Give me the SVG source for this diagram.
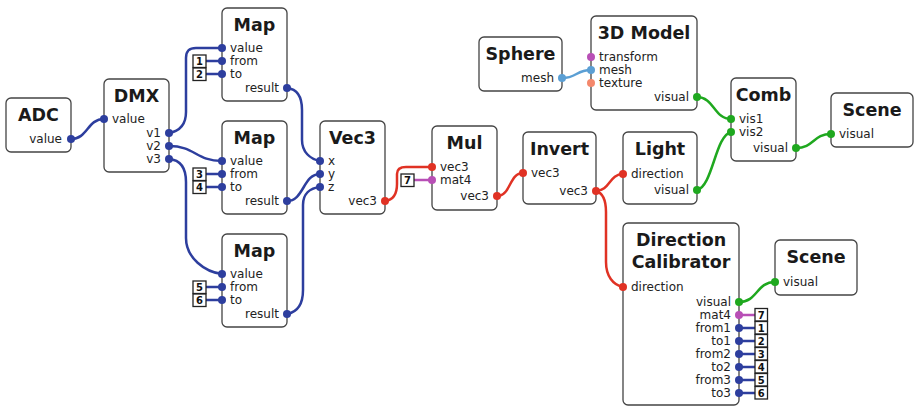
<svg xmlns="http://www.w3.org/2000/svg" width="914" height="406" viewBox="0 0 914 406">
  <defs>
    <style>
      .node { fill: #ffffff; stroke: #444444; stroke-width: 1.3; }
      .title { font-family: "DejaVu Sans", "Liberation Sans", sans-serif; font-weight: bold; font-size: 17.5px; fill: #1a1a1a; text-anchor: middle; }
      .lbl { font-family: "DejaVu Sans", "Liberation Sans", sans-serif; font-size: 12px; fill: #222222; }
      .r { text-anchor: end; }
      .wire { fill: none; stroke-width: 2.5; stroke-linecap: round; }
      .k { fill: #ffffff; stroke: #222222; stroke-width: 1.3; }
      .kt { font-family: "DejaVu Sans", "Liberation Sans", sans-serif; font-weight: bold; font-size: 10px; fill: #111111; text-anchor: middle; }
      .blue { stroke: #2d3e9e; }
      .red { stroke: #e03224; }
      .green { stroke: #1fa81f; }
      .purple { stroke: #b84fb6; }
      .sky { stroke: #5b9fd4; }
      .pb { fill: #2d3e9e; }
      .pr { fill: #e03224; }
      .pg { fill: #1fa81f; }
      .pp { fill: #b84fb6; }
      .ps { fill: #5b9fd4; }
      .po { fill: #f4886c; }
    </style>
  </defs>

  <!-- connectors -->
  <g id="connectors">
    <path class="wire blue" d="M71,139 C88,139 87,119 104,119"/>
    <path class="wire blue" d="M169,133 C180,131 186,124 186,112 L186,58 C186,51 189,48 196,48 L222,48"/>
    <path class="wire blue" d="M169,146 C195,146 196,161 222,161"/>
    <path class="wire blue" d="M169,159 C181,160 186,168 186,182 L186,238 C186,258 205,272 222,274"/>
    <path class="wire blue" d="M287,88 C297,89 302,97 302,110 L302,140 C302,152 310,159 320,161"/>
    <path class="wire blue" d="M287,201 C304,201 303,174 320,174"/>
    <path class="wire blue" d="M287,314 C298,312 303,303 303,290 L303,205 C303,194 310,188 320,187"/>
    <path class="wire red" d="M385,201 C394,200 397,193 397,184 L397,174 C397,169 400,167 406,167 L432,167"/>
    <path class="wire red" d="M497,196 C511,196 509,173 523,173"/>
    <path class="wire red" d="M596,191 C610,191 609,174 623,174"/>
    <path class="wire red" d="M596,191 C603,193 606,200 606,212 L606,262 C606,276 613,285 623,287"/>
    <path class="wire sky" d="M562,78 C577,78 576,70 591,70"/>
    <path class="wire green" d="M697,97 C714,97 714,119 731,119"/>
    <path class="wire green" d="M697,190 C713,186 715,136 731,132"/>
    <path class="wire green" d="M796,148 C814,148 813,134 831,134"/>
    <path class="wire green" d="M739,302 C758,302 756,282 775,282"/>
    <!-- constant inputs -->
    <path class="wire blue" d="M206,61 L222,61 M206,74 L222,74 M206,174 L222,174 M206,187 L222,187 M206,287 L222,287 M206,300 L222,300"/>
    <path class="wire purple" d="M414,180 L432,180 M739,315 L755,315"/>
    <path class="wire blue" d="M739,328 L755,328 M739,341 L755,341 M739,354 L755,354 M739,367 L755,367 M739,380 L755,380 M739,393 L755,393"/>
  </g>

  <!-- constant value boxes -->
  <g id="constants">
    <rect class="k" x="193" y="55" width="13" height="12.5"/><text class="kt" x="199.5" y="65">1</text>
    <rect class="k" x="193" y="68" width="13" height="12.5"/><text class="kt" x="199.5" y="78">2</text>
    <rect class="k" x="193" y="168" width="13" height="12.5"/><text class="kt" x="199.5" y="178">3</text>
    <rect class="k" x="193" y="181" width="13" height="12.5"/><text class="kt" x="199.5" y="191">4</text>
    <rect class="k" x="193" y="281" width="13" height="12.5"/><text class="kt" x="199.5" y="291">5</text>
    <rect class="k" x="193" y="294" width="13" height="12.5"/><text class="kt" x="199.5" y="304">6</text>
    <rect class="k" x="401" y="174" width="13" height="12.5"/><text class="kt" x="407.5" y="184">7</text>
    <rect class="k" x="755" y="308.5" width="12.5" height="12.5"/><text class="kt" x="761.3" y="318.5">7</text>
    <rect class="k" x="755" y="321.5" width="12.5" height="12.5"/><text class="kt" x="761.3" y="331.5">1</text>
    <rect class="k" x="755" y="334.5" width="12.5" height="12.5"/><text class="kt" x="761.3" y="344.5">2</text>
    <rect class="k" x="755" y="347.5" width="12.5" height="12.5"/><text class="kt" x="761.3" y="357.5">3</text>
    <rect class="k" x="755" y="360.5" width="12.5" height="12.5"/><text class="kt" x="761.3" y="370.5">4</text>
    <rect class="k" x="755" y="373.5" width="12.5" height="12.5"/><text class="kt" x="761.3" y="383.5">5</text>
    <rect class="k" x="755" y="386.5" width="12.5" height="12.5"/><text class="kt" x="761.3" y="396.5">6</text>
  </g>

  <g id="adc">
    <rect class="node" x="6" y="98" width="65" height="54" rx="5"/>
    <text class="title" x="38.5" y="121">ADC</text>
    <text class="lbl r" x="62" y="143">value</text>
    <circle class="pb" cx="71" cy="139" r="4"/>
  </g>

  <g id="dmx">
    <rect class="node" x="104" y="79" width="65" height="93" rx="5"/>
    <text class="title" x="136.5" y="102">DMX</text>
    <text class="lbl" x="112" y="123">value</text>
    <text class="lbl r" x="161" y="137">v1</text>
    <text class="lbl r" x="161" y="150">v2</text>
    <text class="lbl r" x="161" y="163">v3</text>
    <circle class="pb" cx="104" cy="119" r="4"/>
    <circle class="pb" cx="169" cy="133" r="4"/>
    <circle class="pb" cx="169" cy="146" r="4"/>
    <circle class="pb" cx="169" cy="159" r="4"/>
  </g>

  <g id="map1">
    <rect class="node" x="222" y="8" width="65" height="93" rx="5"/>
    <text class="title" x="254.5" y="31">Map</text>
    <text class="lbl" x="230" y="52">value</text>
    <text class="lbl" x="230" y="65">from</text>
    <text class="lbl" x="230" y="78">to</text>
    <text class="lbl r" x="279" y="92">result</text>
    <circle class="pb" cx="222" cy="48" r="4"/>
    <circle class="pb" cx="222" cy="61" r="4"/>
    <circle class="pb" cx="222" cy="74" r="4"/>
    <circle class="pb" cx="287" cy="88" r="4"/>
  </g>

  <g id="map2">
    <rect class="node" x="222" y="121" width="65" height="93" rx="5"/>
    <text class="title" x="254.5" y="144">Map</text>
    <text class="lbl" x="230" y="165">value</text>
    <text class="lbl" x="230" y="178">from</text>
    <text class="lbl" x="230" y="191">to</text>
    <text class="lbl r" x="279" y="205">result</text>
    <circle class="pb" cx="222" cy="161" r="4"/>
    <circle class="pb" cx="222" cy="174" r="4"/>
    <circle class="pb" cx="222" cy="187" r="4"/>
    <circle class="pb" cx="287" cy="201" r="4"/>
  </g>

  <g id="map3">
    <rect class="node" x="222" y="234" width="65" height="93" rx="5"/>
    <text class="title" x="254.5" y="257">Map</text>
    <text class="lbl" x="230" y="278">value</text>
    <text class="lbl" x="230" y="291">from</text>
    <text class="lbl" x="230" y="304">to</text>
    <text class="lbl r" x="279" y="318">result</text>
    <circle class="pb" cx="222" cy="274" r="4"/>
    <circle class="pb" cx="222" cy="287" r="4"/>
    <circle class="pb" cx="222" cy="300" r="4"/>
    <circle class="pb" cx="287" cy="314" r="4"/>
  </g>

  <g id="vec3">
    <rect class="node" x="320" y="121" width="65" height="93" rx="5"/>
    <text class="title" x="352.5" y="144">Vec3</text>
    <text class="lbl" x="328" y="165">x</text>
    <text class="lbl" x="328" y="178">y</text>
    <text class="lbl" x="328" y="191">z</text>
    <text class="lbl r" x="377" y="205">vec3</text>
    <circle class="pb" cx="320" cy="161" r="4"/>
    <circle class="pb" cx="320" cy="174" r="4"/>
    <circle class="pb" cx="320" cy="187" r="4"/>
    <circle class="pr" cx="385" cy="201" r="4"/>
  </g>

  <g id="mul">
    <rect class="node" x="432" y="126" width="65" height="84" rx="5"/>
    <text class="title" x="464.5" y="149">Mul</text>
    <text class="lbl" x="440" y="171">vec3</text>
    <text class="lbl" x="440" y="184">mat4</text>
    <text class="lbl r" x="489" y="200">vec3</text>
    <circle class="pr" cx="432" cy="167" r="4"/>
    <circle class="pp" cx="432" cy="180" r="4"/>
    <circle class="pr" cx="497" cy="196" r="4"/>
  </g>

  <g id="invert">
    <rect class="node" x="523" y="132" width="73" height="72" rx="5"/>
    <text class="title" x="559.5" y="155">Invert</text>
    <text class="lbl" x="531" y="177">vec3</text>
    <text class="lbl r" x="588" y="195">vec3</text>
    <circle class="pr" cx="523" cy="173" r="4"/>
    <circle class="pr" cx="596" cy="191" r="4"/>
  </g>

  <g id="light">
    <rect class="node" x="623" y="132" width="74" height="72" rx="5"/>
    <text class="title" x="660" y="155">Light</text>
    <text class="lbl" x="631" y="178">direction</text>
    <text class="lbl r" x="689" y="194">visual</text>
    <circle class="pr" cx="623" cy="174" r="4"/>
    <circle class="pg" cx="697" cy="190" r="4"/>
  </g>

  <g id="sphere">
    <rect class="node" x="479" y="37" width="83" height="54" rx="5"/>
    <text class="title" x="520.5" y="60">Sphere</text>
    <text class="lbl r" x="554" y="82">mesh</text>
    <circle class="ps" cx="562" cy="78" r="4"/>
  </g>

  <g id="model3d">
    <rect class="node" x="591" y="16" width="106" height="94" rx="5"/>
    <text class="title" x="644" y="39">3D Model</text>
    <text class="lbl" x="599" y="61">transform</text>
    <text class="lbl" x="599" y="74">mesh</text>
    <text class="lbl" x="599" y="87">texture</text>
    <text class="lbl r" x="689" y="101">visual</text>
    <circle class="pp" cx="591" cy="57" r="4"/>
    <circle class="ps" cx="591" cy="70" r="4"/>
    <circle class="po" cx="591" cy="83" r="4"/>
    <circle class="pg" cx="697" cy="97" r="4"/>
  </g>

  <g id="comb">
    <rect class="node" x="731" y="78" width="65" height="83" rx="5"/>
    <text class="title" x="763.5" y="101">Comb</text>
    <text class="lbl" x="739" y="123">vis1</text>
    <text class="lbl" x="739" y="136">vis2</text>
    <text class="lbl r" x="788" y="152">visual</text>
    <circle class="pg" cx="731" cy="119" r="4"/>
    <circle class="pg" cx="731" cy="132" r="4"/>
    <circle class="pg" cx="796" cy="148" r="4"/>
  </g>

  <g id="scene1">
    <rect class="node" x="831" y="93" width="82" height="54" rx="5"/>
    <text class="title" x="872" y="116">Scene</text>
    <text class="lbl" x="839" y="138">visual</text>
    <circle class="pg" cx="831" cy="134" r="4"/>
  </g>

  <g id="direction-calibrator">
    <rect class="node" x="623" y="223" width="116" height="182" rx="5"/>
    <text class="title" x="681" y="246">Direction</text>
    <text class="title" x="681" y="268">Calibrator</text>
    <text class="lbl" x="631" y="291">direction</text>
    <text class="lbl r" x="731" y="306">visual</text>
    <text class="lbl r" x="731" y="319">mat4</text>
    <text class="lbl r" x="731" y="332">from1</text>
    <text class="lbl r" x="731" y="345">to1</text>
    <text class="lbl r" x="731" y="358">from2</text>
    <text class="lbl r" x="731" y="371">to2</text>
    <text class="lbl r" x="731" y="384">from3</text>
    <text class="lbl r" x="731" y="397">to3</text>
    <circle class="pr" cx="623" cy="287" r="4"/>
    <circle class="pg" cx="739" cy="302" r="4"/>
    <circle class="pp" cx="739" cy="315" r="4"/>
    <circle class="pb" cx="739" cy="328" r="4"/>
    <circle class="pb" cx="739" cy="341" r="4"/>
    <circle class="pb" cx="739" cy="354" r="4"/>
    <circle class="pb" cx="739" cy="367" r="4"/>
    <circle class="pb" cx="739" cy="380" r="4"/>
    <circle class="pb" cx="739" cy="393" r="4"/>
  </g>

  <g id="scene2">
    <rect class="node" x="775" y="240" width="82" height="55" rx="5"/>
    <text class="title" x="816" y="263">Scene</text>
    <text class="lbl" x="783" y="286">visual</text>
    <circle class="pg" cx="775" cy="282" r="4"/>
  </g>
</svg>
